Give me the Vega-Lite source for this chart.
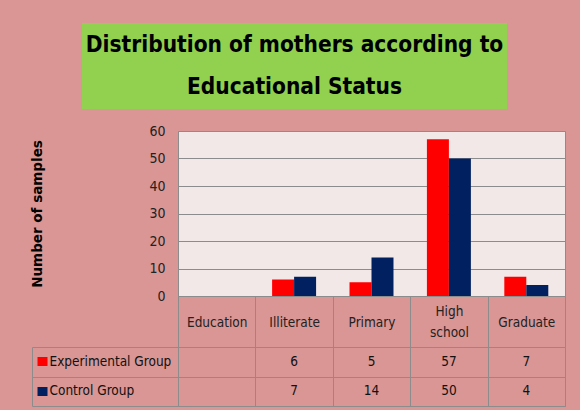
{
  "$schema": "https://vega.github.io/schema/vega-lite/v6.json",
  "background": "#D99694",
  "padding": {"left": 30, "top": 23, "right": 20, "bottom": 10},
  "config": {"view": {"stroke": null}, "font": "DejaVu Sans Condensed"},
  "datasets": {
    "bars": [
      {"category": "Illiterate", "group": "Experimental Group", "value": 6},
      {"category": "Illiterate", "group": "Control Group", "value": 7},
      {"category": "Primary", "group": "Experimental Group", "value": 5},
      {"category": "Primary", "group": "Control Group", "value": 14},
      {"category": "High school", "group": "Experimental Group", "value": 57},
      {"category": "High school", "group": "Control Group", "value": 50},
      {"category": "Graduate", "group": "Experimental Group", "value": 7},
      {"category": "Graduate", "group": "Control Group", "value": 4}
    ],
    "title": [{"t": "title", "text": "Distribution of mothers according to\nEducational Status"}]
  },
  "spacing": 14,
  "vconcat": [
    {
      "width": 387,
      "height": 86,
      "data": {"name": "title"},
      "encoding": {
        "x": {"field": "t", "type": "nominal", "axis": null, "scale": {"range": [-96, 329], "paddingInner": 0, "paddingOuter": 0}},
        "y": {"field": "t", "type": "nominal", "axis": null, "scale": {"paddingInner": 0, "paddingOuter": 0}}
      },
      "layer": [
        {"mark": {"type": "rect", "color": "#92D050", "clip": false}},
        {
          "mark": {"type": "text", "font": "DejaVu Sans Condensed", "fontWeight": "bold", "fontSize": 22.5, "lineHeight": 42, "lineBreak": "\n", "baseline": "middle", "align": "center", "dy": -21, "color": "#000000"},
          "encoding": {"text": {"field": "text"}}
        }
      ]
    },
    {
      "bounds": "flush",
      "spacing": 51,
      "vconcat": [
        {
          "width": 387,
          "height": 165,
          "data": {"name": "bars"},
          "view": {"fill": "#F2E8E8", "stroke": "#8C8C8C"},
          "mark": {"type": "bar"},
          "encoding": {
            "x": {
              "field": "category", "type": "nominal",
              "scale": {"domain": ["Education", "Illiterate", "Primary", "High school", "Graduate"], "paddingInner": 0, "paddingOuter": 0},
              "axis": {"title": null, "orient": "bottom", "tickBand": "extent", "tickSize": 51, "tickColor": "#8C8C8C", "domainColor": "#8C8C8C", "labelAngle": 0, "labelBaseline": "middle", "labelPadding": {"condition": {"test": "datum.value == 'High school'", "value": -36}, "value": -25}, "labelFontSize": 13.5, "labelColor": "#222222", "labelExpr": "datum.value == 'High school' ? ['High', 'school'] : datum.value", "labelLineHeight": 21, "grid": false}
            },
            "xOffset": {
              "field": "group", "type": "nominal",
              "scale": {"domain": ["Experimental Group", "Control Group"], "paddingInner": 0, "paddingOuter": 0.76}
            },
            "y": {
              "field": "value", "type": "quantitative",
              "scale": {"domain": [0, 60]},
              "axis": {"values": [0, 10, 20, 30, 40, 50, 60], "title": "Number of samples", "titleFont": "DejaVu Sans", "titleFontWeight": "bold", "titleFontSize": 13.5, "titleColor": "#000000", "titlePadding": 104, "labelFontSize": 14, "labelColor": "#222222", "labelPadding": 13, "ticks": false, "domain": false, "grid": true, "gridColor": "#8C8C8C"}
            },
            "color": {
              "field": "group", "type": "nominal",
              "scale": {"domain": ["Experimental Group", "Control Group"], "range": ["#FF0000", "#002060"]},
              "legend": null
            }
          }
        },
        {
          "width": 387,
          "height": 59,
          "data": {"name": "bars"},
          "view": {"stroke": "#8C8C8C"},
          "resolve": {"axis": {"y": "independent"}},
          "layer": [
            {
              "mark": {"type": "text", "fontSize": 13.5, "color": "#111111"},
              "encoding": {
                "x": {
                  "field": "category", "type": "nominal",
                  "scale": {"domain": ["Education", "Illiterate", "Primary", "High school", "Graduate"], "paddingInner": 0, "paddingOuter": 0},
                  "axis": {"orient": "bottom", "title": null, "labels": false, "ticks": false, "domain": false, "grid": true, "gridColor": "#8C8C8C", "tickBand": "extent"}
                },
                "y": {
                  "field": "group", "type": "nominal",
                  "scale": {"domain": ["Experimental Group", "Control Group"], "paddingInner": 0, "paddingOuter": 0},
                  "axis": {"orient": "left", "title": null, "offset": 146, "domain": true, "domainColor": "#8C8C8C", "tickBand": "extent", "tickSize": -146, "tickColor": "#8C8C8C", "labels": false, "grid": true, "gridColor": "#8C8C8C"}
                },
                "text": {"field": "value", "type": "quantitative"}
              }
            },
            {
              "mark": {"type": "text", "text": ""},
              "encoding": {
                "y": {
                  "field": "group", "type": "nominal",
                  "scale": {"domain": ["Experimental Group", "Control Group"], "paddingInner": 0, "paddingOuter": 0},
                  "axis": {"orient": "left", "title": null, "offset": 131, "domain": false, "tickSize": 10, "tickWidth": 9, "tickColor": {"condition": {"test": "datum.value === 'Control Group'", "value": "#002060"}, "value": "#FF0000"}, "labelAlign": "left", "labelBaseline": "middle", "labelPadding": -12, "labelFontSize": 13.5, "labelColor": "#111111", "grid": false}
                }
              }
            }
          ]
        }
      ]
    }
  ]
}
